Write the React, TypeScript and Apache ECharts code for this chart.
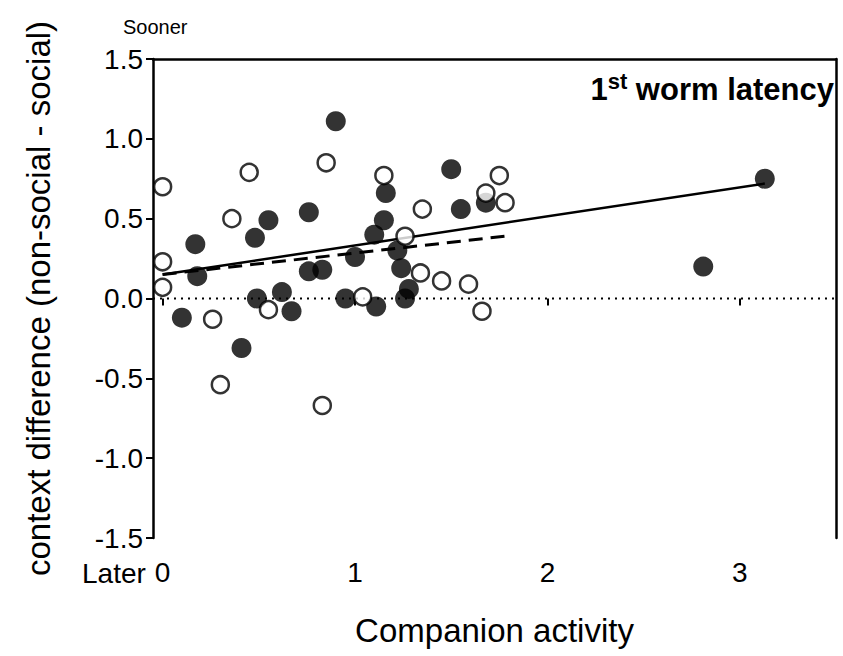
import React, { useEffect, useRef } from "react";
import * as echarts from "echarts";

const filledX = [0.10, 0.17, 0.18, 0.41, 0.48, 0.49, 0.55, 0.62, 0.67, 0.76, 0.76, 0.83, 0.90, 0.95, 1.00, 1.10, 1.11, 1.15, 1.16, 1.22, 1.24, 1.26, 1.28, 1.50, 1.55, 1.68, 2.81, 3.13];
const filledY = [-0.12, 0.34, 0.14, -0.31, 0.38, 0.00, 0.49, 0.04, -0.08, 0.54, 0.17, 0.18, 1.11, 0.00, 0.26, 0.40, -0.05, 0.49, 0.66, 0.30, 0.19, 0.00, 0.06, 0.81, 0.56, 0.60, 0.20, 0.75];

const openX = [0.00, 0.00, 0.00, 0.26, 0.30, 0.36, 0.45, 0.55, 0.83, 0.85, 1.04, 1.15, 1.26, 1.34, 1.35, 1.45, 1.59, 1.66, 1.68, 1.75, 1.78];
const openY = [0.70, 0.23, 0.07, -0.13, -0.54, 0.50, 0.79, -0.07, -0.67, 0.85, 0.01, 0.77, 0.39, 0.16, 0.56, 0.11, 0.09, -0.08, 0.66, 0.77, 0.60];

// regression line endpoints [x, y]
const solidFit = [[0.0, 0.15], [3.13, 0.72]];
const dashedFit = [[0.0, 0.15], [1.78, 0.39]];
const zeroLine = [[-0.05, 0], [3.5, 0]];

const xTicks = [0, 1, 2, 3];

const xTitle = "Companion activity";
const yTitle = "context difference (non-social - social)";

export default function App() {
  const ref = useRef<HTMLDivElement>(null);
  useEffect(() => {
    document.body.style.margin = "0";
    const chart = echarts.init(ref.current!, null, { renderer: "svg" });
    const font = "'Liberation Sans', Arial, sans-serif";
    const filled = filledX.map((x, i) => [x, filledY[i]]);
    const open = openX.map((x, i) => [x, openY[i]]);
    chart.setOption({
      animation: false,
      backgroundColor: "#fff",
      textStyle: { fontFamily: font },
      grid: { left: 153, right: 7, top: 59, bottom: 118 },
      xAxis: [
        {
          type: "value",
          min: -0.05,
          max: 3.5,
          position: "bottom",
          axisLine: { show: false },
          splitLine: { show: false },
          axisTick: {
            show: true,
            customValues: xTicks,
            length: 7,
            lineStyle: { color: "#000", width: 2 },
          },
          axisLabel: {
            customValues: xTicks,
            color: "#000",
            fontSize: 28,
            fontFamily: font,
            margin: 20,
          },
          name: xTitle,
          nameLocation: "middle",
          nameGap: 76,
          nameTextStyle: { color: "#000", fontSize: 33, fontFamily: font },
        },
        {
          type: "value",
          min: -0.05,
          max: 3.5,
          position: "top",
          axisLine: { show: true, onZero: false, lineStyle: { color: "#000", width: 2.5 } },
          axisTick: { show: false },
          axisLabel: { show: false },
          splitLine: { show: false },
        },
      ],
      yAxis: [
        {
          type: "value",
          min: -1.5,
          max: 1.5,
          interval: 0.5,
          position: "left",
          axisLine: { show: true, onZero: false, lineStyle: { color: "#000", width: 2.5 } },
          axisTick: { show: true, length: 7, lineStyle: { color: "#000", width: 2 } },
          splitLine: { show: false },
          axisLabel: {
            color: "#000",
            fontSize: 28,
            fontFamily: font,
            margin: 10,
            formatter: (v: number) => v.toFixed(1),
          },
          name: yTitle,
          nameLocation: "middle",
          nameGap: 98,
          nameTextStyle: { color: "#000", fontSize: 33, fontFamily: font },
        },
        {
          type: "value",
          min: -1.5,
          max: 1.5,
          position: "right",
          axisLine: { show: true, onZero: false, lineStyle: { color: "#000", width: 2.5 } },
          axisTick: { show: false },
          axisLabel: { show: false },
          splitLine: { show: false },
        },
      ],
      graphic: [
        {
          type: "text",
          left: 123,
          top: 17,
          style: { text: "Sooner", fontSize: 20, fontFamily: font, fill: "#000" },
        },
        {
          type: "text",
          left: 82,
          top: 559,
          style: { text: "Later", fontSize: 28, fontFamily: font, fill: "#000" },
        },
        {
          type: "text",
          right: 9,
          top: 70,
          style: {
            text: "{a|1}{s|st}{a| worm latency}",
            fill: "#000",
            rich: {
              a: { fontSize: 31, fontWeight: "bold", fontFamily: font, lineHeight: 38, fill: "#000" },
              s: { fontSize: 22, fontWeight: "bold", fontFamily: font, verticalAlign: "top", lineHeight: 38, fill: "#000" },
            },
          },
        },
      ],
      series: [
        {
          type: "line",
          data: zeroLine,
          symbol: "none",
          lineStyle: { color: "#000", width: 2, type: [2, 5] },
          z: 1,
        },
        {
          type: "line",
          data: dashedFit,
          symbol: "none",
          lineStyle: { color: "#000", width: 3, type: [14, 8] },
          z: 2,
        },
        {
          type: "line",
          data: solidFit,
          symbol: "none",
          lineStyle: { color: "#000", width: 2.5 },
          z: 2,
        },
        {
          type: "scatter",
          data: filled,
          symbol: "circle",
          symbolSize: 20,
          itemStyle: { color: "#000" },
          z: 3,
        },
        {
          type: "scatter",
          data: open,
          symbol: "circle",
          symbolSize: 17,
          itemStyle: { color: "#fff", borderColor: "#000", borderWidth: 2.5 },
          z: 4,
        },
      ],
    });
    return () => chart.dispose();
  }, []);
  return <div ref={ref} style={{ width: 843, height: 656 }} />;
}
